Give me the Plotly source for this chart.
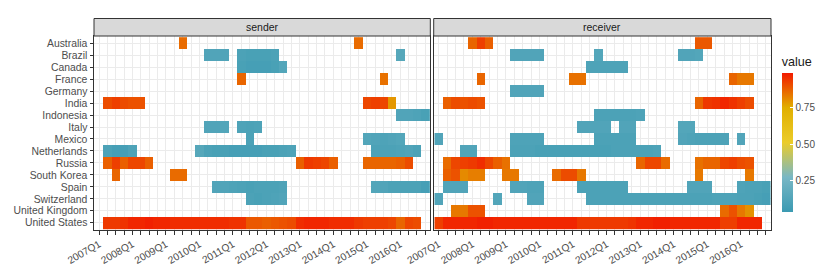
import plotly.graph_objects as go

# ---------------- data ----------------
quarters = [f"{y}Q{q}" for y in range(2007, 2017) for q in range(1, 5)]
tick_labels = [q if q.endswith("Q1") else "" for q in quarters]

countries = ["Australia", "Brazil", "Canada", "France", "Germany", "India",
             "Indonesia", "Italy", "Mexico", "Netherlands", "Russia",
             "South Korea", "Spain", "Switzerland", "United Kingdom",
             "United States"]

panels = ["sender", "receiver"]

# runs of consecutive quarters: (first quarter, [values...])
sender_runs = {
    "Australia": [("2009Q3", [0.86]), ("2014Q4", [0.86])],
    "Brazil": [("2010Q2", [0.12, 0.12, 0.12]),
               ("2011Q2", [0.10, 0.09, 0.09, 0.09, 0.10]),
               ("2016Q1", [0.14])],
    "Canada": [("2011Q2", [0.09, 0.08, 0.08, 0.08, 0.09, 0.13])],
    "France": [("2011Q2", [0.87]), ("2015Q3", [0.85])],
    "India": [("2007Q2", [0.91, 0.93, 0.91, 0.90, 0.90]),
              ("2015Q1", [0.92, 0.93, 0.92, 0.79])],
    "Indonesia": [("2016Q1", [0.12, 0.12, 0.11, 0.09])],
    "Italy": [("2010Q2", [0.12, 0.12, 0.13]), ("2011Q2", [0.11, 0.10, 0.11])],
    "Mexico": [("2011Q3", [0.10]), ("2015Q1", [0.13, 0.12, 0.11, 0.12, 0.13])],
    "Netherlands": [("2007Q2", [0.10, 0.08, 0.08, 0.11]),
                    ("2010Q1", [0.14, 0.10, 0.09, 0.09, 0.08, 0.08, 0.08, 0.08,
                                0.09, 0.09, 0.10, 0.11]),
                    ("2015Q2", [0.10, 0.10, 0.10, 0.11, 0.12, 0.10])],
    "Russia": [("2007Q2", [0.88, 0.93, 0.88, 0.92, 0.92, 0.88]),
               ("2013Q1", [0.88, 0.94, 0.93, 0.92, 0.88]),
               ("2015Q1", [0.87, 0.87, 0.87, 0.87, 0.88, 0.91])],
    "South Korea": [("2007Q3", [0.87]), ("2009Q2", [0.86, 0.86])],
    "Spain": [("2010Q3", [0.12, 0.12, 0.11, 0.10, 0.09, 0.10, 0.10, 0.10, 0.11]),
              ("2015Q2", [0.13, 0.12, 0.10, 0.10, 0.10, 0.10, 0.08])],
    "Switzerland": [("2011Q3", [0.10, 0.09, 0.10, 0.11, 0.12])],
    "United States": [("2007Q2", [0.94, 0.94, 0.95, 0.97, 0.97, 0.98, 0.97, 0.97,
                                  0.96, 0.96, 0.96, 0.96, 0.96, 0.96, 0.96, 0.95,
                                  0.95, 0.89, 0.89, 0.88, 0.89, 0.90, 0.91, 0.96,
                                  0.97, 0.97, 0.97, 0.96, 0.96, 0.96, 0.94, 0.93,
                                  0.93, 0.93, 0.92, 0.87, 0.92, 0.91])],
}

receiver_runs = {
    "Australia": [("2008Q1", [0.87, 0.93, 0.88]), ("2014Q4", [0.89, 0.89])],
    "Brazil": [("2009Q2", [0.12, 0.12, 0.12, 0.12]), ("2011Q4", [0.13]),
               ("2014Q2", [0.12, 0.12, 0.13])],
    "Canada": [("2011Q3", [0.11, 0.11, 0.11, 0.11, 0.11])],
    "France": [("2008Q2", [0.87]), ("2011Q1", [0.85, 0.85]),
               ("2015Q4", [0.87, 0.84, 0.84])],
    "Germany": [("2009Q2", [0.12, 0.12, 0.12, 0.12])],
    "India": [("2007Q2", [0.88, 0.91, 0.90, 0.91, 0.90]),
              ("2014Q4", [0.87, 0.94, 0.95, 0.97, 0.95, 0.93, 0.91])],
    "Indonesia": [("2011Q4", [0.10, 0.10, 0.10, 0.10, 0.10, 0.11])],
    "Italy": [("2011Q2", [0.12, 0.12, 0.12, 0.12]), ("2012Q3", [0.12, 0.12]),
              ("2014Q2", [0.13, 0.13])],
    "Mexico": [("2007Q1", [0.12]), ("2009Q2", [0.11, 0.11, 0.11, 0.11]),
               ("2011Q4", [0.10, 0.10, 0.10, 0.10, 0.10]),
               ("2014Q2", [0.12, 0.11, 0.10, 0.10, 0.10, 0.11]),
               ("2016Q1", [0.12])],
    "Netherlands": [("2007Q4", [0.12, 0.12]),
                    ("2009Q2", [0.10, 0.10, 0.10, 0.09, 0.09, 0.09, 0.09, 0.09, 0.09,
                                0.09, 0.09, 0.09, 0.10, 0.10, 0.10, 0.10, 0.10, 0.11])],
    "Russia": [("2007Q2", [0.86, 0.92, 0.93, 0.94, 0.96, 0.92, 0.88, 0.85]),
               ("2013Q1", [0.87, 0.92, 0.92, 0.86]),
               ("2014Q4", [0.85, 0.87, 0.87, 0.92, 0.93, 0.91, 0.90])],
    "South Korea": [("2007Q2", [0.88, 0.90, 0.81, 0.83, 0.83]),
                    ("2009Q1", [0.84, 0.84]),
                    ("2010Q3", [0.86, 0.91, 0.91, 0.84]),
                    ("2014Q4", [0.84]), ("2016Q2", [0.84])],
    "Spain": [("2007Q2", [0.12, 0.12, 0.12]), ("2009Q2", [0.12, 0.12, 0.11, 0.11]),
              ("2011Q2", [0.10, 0.10, 0.10, 0.10, 0.10, 0.10]),
              ("2014Q3", [0.12, 0.12, 0.12]), ("2016Q1", [0.11, 0.10, 0.10, 0.09])],
    "Switzerland": [("2007Q1", [0.12]), ("2008Q4", [0.13]), ("2009Q4", [0.12, 0.12]),
                    ("2011Q3", [0.10, 0.10, 0.10, 0.10, 0.10, 0.10, 0.10, 0.10, 0.10,
                                0.10, 0.10, 0.10, 0.10, 0.10, 0.10, 0.11, 0.11, 0.11,
                                0.10, 0.10, 0.09, 0.08])],
    "United Kingdom": [("2007Q3", [0.84, 0.84, 0.90, 0.90]),
                       ("2015Q3", [0.86, 0.90, 0.84, 0.80])],
    "United States": [("2007Q1", [0.93, 0.97, 0.97, 0.97, 0.97, 0.98, 0.98, 0.97,
                                  0.97, 0.97, 0.97, 0.97, 0.97, 0.97, 0.97, 0.97,
                                  0.97, 0.94, 0.94, 0.94, 0.94, 0.94, 0.94, 0.95,
                                  0.97, 0.97, 0.98, 0.98, 0.97, 0.97, 0.97, 0.97,
                                  0.97, 0.97, 0.93, 0.93, 0.97, 0.97, 0.97])],
}

value_min, value_max = 0.035, 0.99
zissou = ["#3B9AB2", "#78B7C5", "#EBCC2A", "#E1AF00", "#F21A00"]


def build(runs):
    z = [[None] * len(quarters) for _ in countries]
    for country, lst in runs.items():
        r = countries.index(country)
        for start, vals in lst:
            s = quarters.index(start)
            for k, v in enumerate(vals):
                z[r][s + k] = v
    return z


W, H = 830, 277
FONT = "Liberation Sans, Arial, sans-serif"

# plot area (pixels)
ML, MR, MT, MB = 94, 55, 18, 47
AW, AH = W - ML - MR, H - MT - MB
fx = lambda p: (p - ML) / AW
fy = lambda p: (H - MB - p) / AH

panel_x = [(94.0, 432.3), (435.7, 775.0)]
panel_top, panel_bot = 36.0, 230.0
strip_top = 18.5

fig = go.Figure()
for i, runs in enumerate([sender_runs, receiver_runs]):
    sfx = "" if i == 0 else "2"
    fig.add_trace(go.Heatmap(
        x=quarters, y=countries, z=build(runs),
        coloraxis="coloraxis", xaxis="x" + sfx, yaxis="y" + sfx,
        hoverongaps=False,
    ))

axis_common = dict(
    type="category", showgrid=True, gridcolor="#EBEBEB", gridwidth=1,
    showline=True, mirror=True, linecolor="#333333", linewidth=1,
    zeroline=False, ticks="outside", ticklen=3.5, tickcolor="#333333",
    tickwidth=1, automargin=False,
    tickfont=dict(family=FONT, size=10.2, color="#4D4D4D"),
)

bar_top, bar_bot = 73.3, 211.7
title_space = 20

layout = dict(
    width=W, height=H, margin=dict(l=ML, r=MR, t=MT, b=MB, pad=0),
    paper_bgcolor="white", plot_bgcolor="white", showlegend=False,
    font=dict(family=FONT),
    coloraxis=dict(
        cmin=value_min, cmax=value_max,
        colorscale=[[k / (len(zissou) - 1), c] for k, c in enumerate(zissou)],
        colorbar=dict(
            x=fx(785.7), xanchor="left", y=fy(bar_bot), yanchor="bottom",
            lenmode="pixels", len=(bar_bot - bar_top) + title_space,
            thicknessmode="pixels", thickness=11,
            xpad=0, ypad=0, outlinewidth=0,
            tickvals=[0.25, 0.5, 0.75], ticktext=["0.25", "0.50", "0.75"],
            ticks="inside", ticklen=2.5, tickcolor="white", tickwidth=1,
            tickfont=dict(family=FONT, size=10, color="#4D4D4D"),
            title=dict(text="value", side="top",
                       font=dict(family=FONT, size=12.6, color="#1A1A1A")),
        ),
    ),
)

for i, (x0, x1) in enumerate(panel_x):
    sfx = "" if i == 0 else "2"
    layout["xaxis" + sfx] = dict(
        axis_common, domain=[max(0, fx(x0)), min(1, fx(x1))], anchor="y" + sfx,
        categoryorder="array", categoryarray=quarters,
        range=[-0.6, len(quarters) - 0.4],
        tickmode="array", tickvals=quarters, ticktext=tick_labels,
        tickangle=-30,
    )
    ya = dict(
        axis_common, domain=[fy(panel_bot), fy(panel_top)], anchor="x" + sfx,
        categoryorder="array", categoryarray=countries,
        range=[len(countries) - 0.4, -0.6],
        tickmode="array", tickvals=countries, ticktext=countries,
        tickfont=dict(family=FONT, size=10.4, color="#4D4D4D"),
    )
    if i == 1:
        ya.update(showticklabels=False, ticks="")
    layout["yaxis" + sfx] = ya

fig.update_layout(**layout)

for i, (x0, x1) in enumerate(panel_x):
    fig.add_shape(type="rect", xref="paper", yref="paper",
                  x0=max(0, fx(x0)), x1=min(1, fx(x1)),
                  y0=fy(panel_top), y1=fy(strip_top),
                  fillcolor="#D9D9D9", line=dict(color="#333333", width=1))
    fig.add_annotation(text=panels[i], xref="paper", yref="paper",
                       x=fx((x0 + x1) / 2), y=fy((panel_top + strip_top) / 2),
                       showarrow=False, xanchor="center", yanchor="middle",
                       font=dict(family=FONT, size=10.5, color="#1A1A1A"))

fig.write_html(
    "out.html",
    config={"displayModeBar": False},
    post_script="document.body.style.margin='0';document.body.style.overflow='hidden';",
)
